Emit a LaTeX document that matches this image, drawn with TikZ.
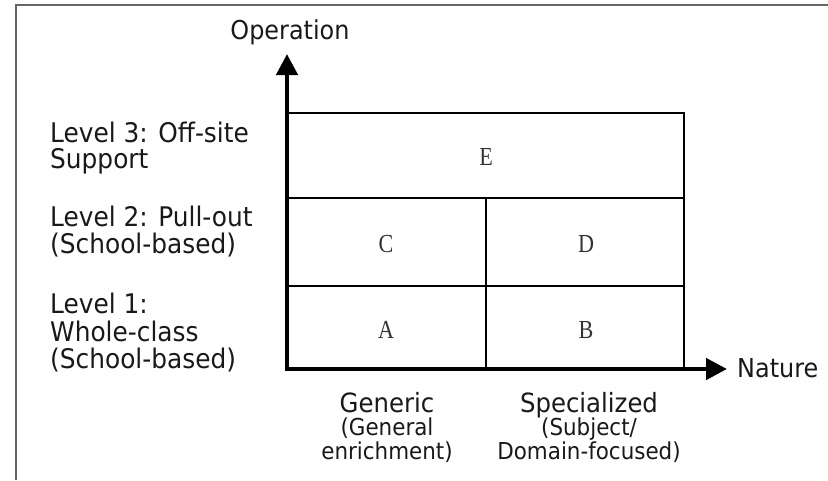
\documentclass[tikz,border=0pt]{standalone}
\usepackage{fontspec}
\setmainfont[FakeStretch=0.92]{DejaVu Sans}
\newfontfamily\letterfont[FakeStretch=0.85]{Liberation Serif}
\usetikzlibrary{arrows.meta}
\tikzset{
  axis/.style={line width=4.5pt, -{Triangle[length=21pt,width=21pt]}},
  grid/.style={line width=2.2pt},
  frame/.style={line width=1.6pt, draw=black!60},
  lvl/.style={anchor=base west, inner sep=0pt, font=\fontsize{27}{27}\selectfont, text=black!90},
  cell/.style={inner sep=0pt, font=\letterfont\fontsize{26}{26}\selectfont, text=black!80},
  axlabel/.style={inner sep=0pt, font=\fontsize{26}{26}\selectfont, text=black!90},
  catlabel/.style={anchor=base, inner sep=0pt, font=\fontsize{26.5}{26.5}\selectfont, text=black!90},
  sublabel/.style={anchor=base, inner sep=0pt, font=\fontsize{23.3}{23.3}\selectfont, text=black!90},
}
\begin{document}
\begin{tikzpicture}[x=1pt,y=-1pt]
\useasboundingbox (0,0) rectangle (828,480);
% frame
\draw[frame] (16,480) -- (16,5) -- (828,5);
% grid
\draw[grid] (287,113) rectangle (684,369);
\draw[grid] (287,198) -- (684,198);
\draw[grid] (287,286) -- (684,286);
\draw[grid] (486,198) -- (486,369);
% axes
\coordinate (O) at (285,369);
\coordinate (ybase) at (287,371);
\coordinate (ytip) at (287,54);
\coordinate (xtip) at (727,369);
\draw[axis] (ybase) -- (ytip);
\draw[axis] (O) -- (xtip);
% cells
\node[cell] (E) at (486,157) {E};
\node[cell] (C) at (386,244) {C};
\node[cell] (D) at (586,244) {D};
\node[cell] (A) at (386,330) {A};
\node[cell] (B) at (586,330) {B};
% axis labels
\node[axlabel, anchor=base] (op) at (290,39) {Operation};
\node[axlabel, anchor=base west] (nat) at (737,377) {Nature};
% level labels
\node[lvl] (l3a) at (50,142) {Level 3: Off-site};
\node[lvl] (l3b) at (50,168) {Support};
\node[lvl] (l2a) at (50,226) {Level 2: Pull-out};
\node[lvl] (l2b) at (50,253) {(School-based)};
\node[lvl] (l1a) at (50,313) {Level 1:};
\node[lvl] (l1b) at (50,341) {Whole-class};
\node[lvl] (l1c) at (50,368) {(School-based)};
% category labels
\node[catlabel] (gen) at (387,412) {Generic};
\node[sublabel] (gen2) at (387,435) {(General};
\node[sublabel] (gen3) at (387,459) {enrichment)};
\node[catlabel] (spe) at (589,412) {Specialized};
\node[sublabel] (spe2) at (589,435) {(Subject/};
\node[sublabel] (spe3) at (589,459) {Domain-focused)};
\end{tikzpicture}
\end{document}
